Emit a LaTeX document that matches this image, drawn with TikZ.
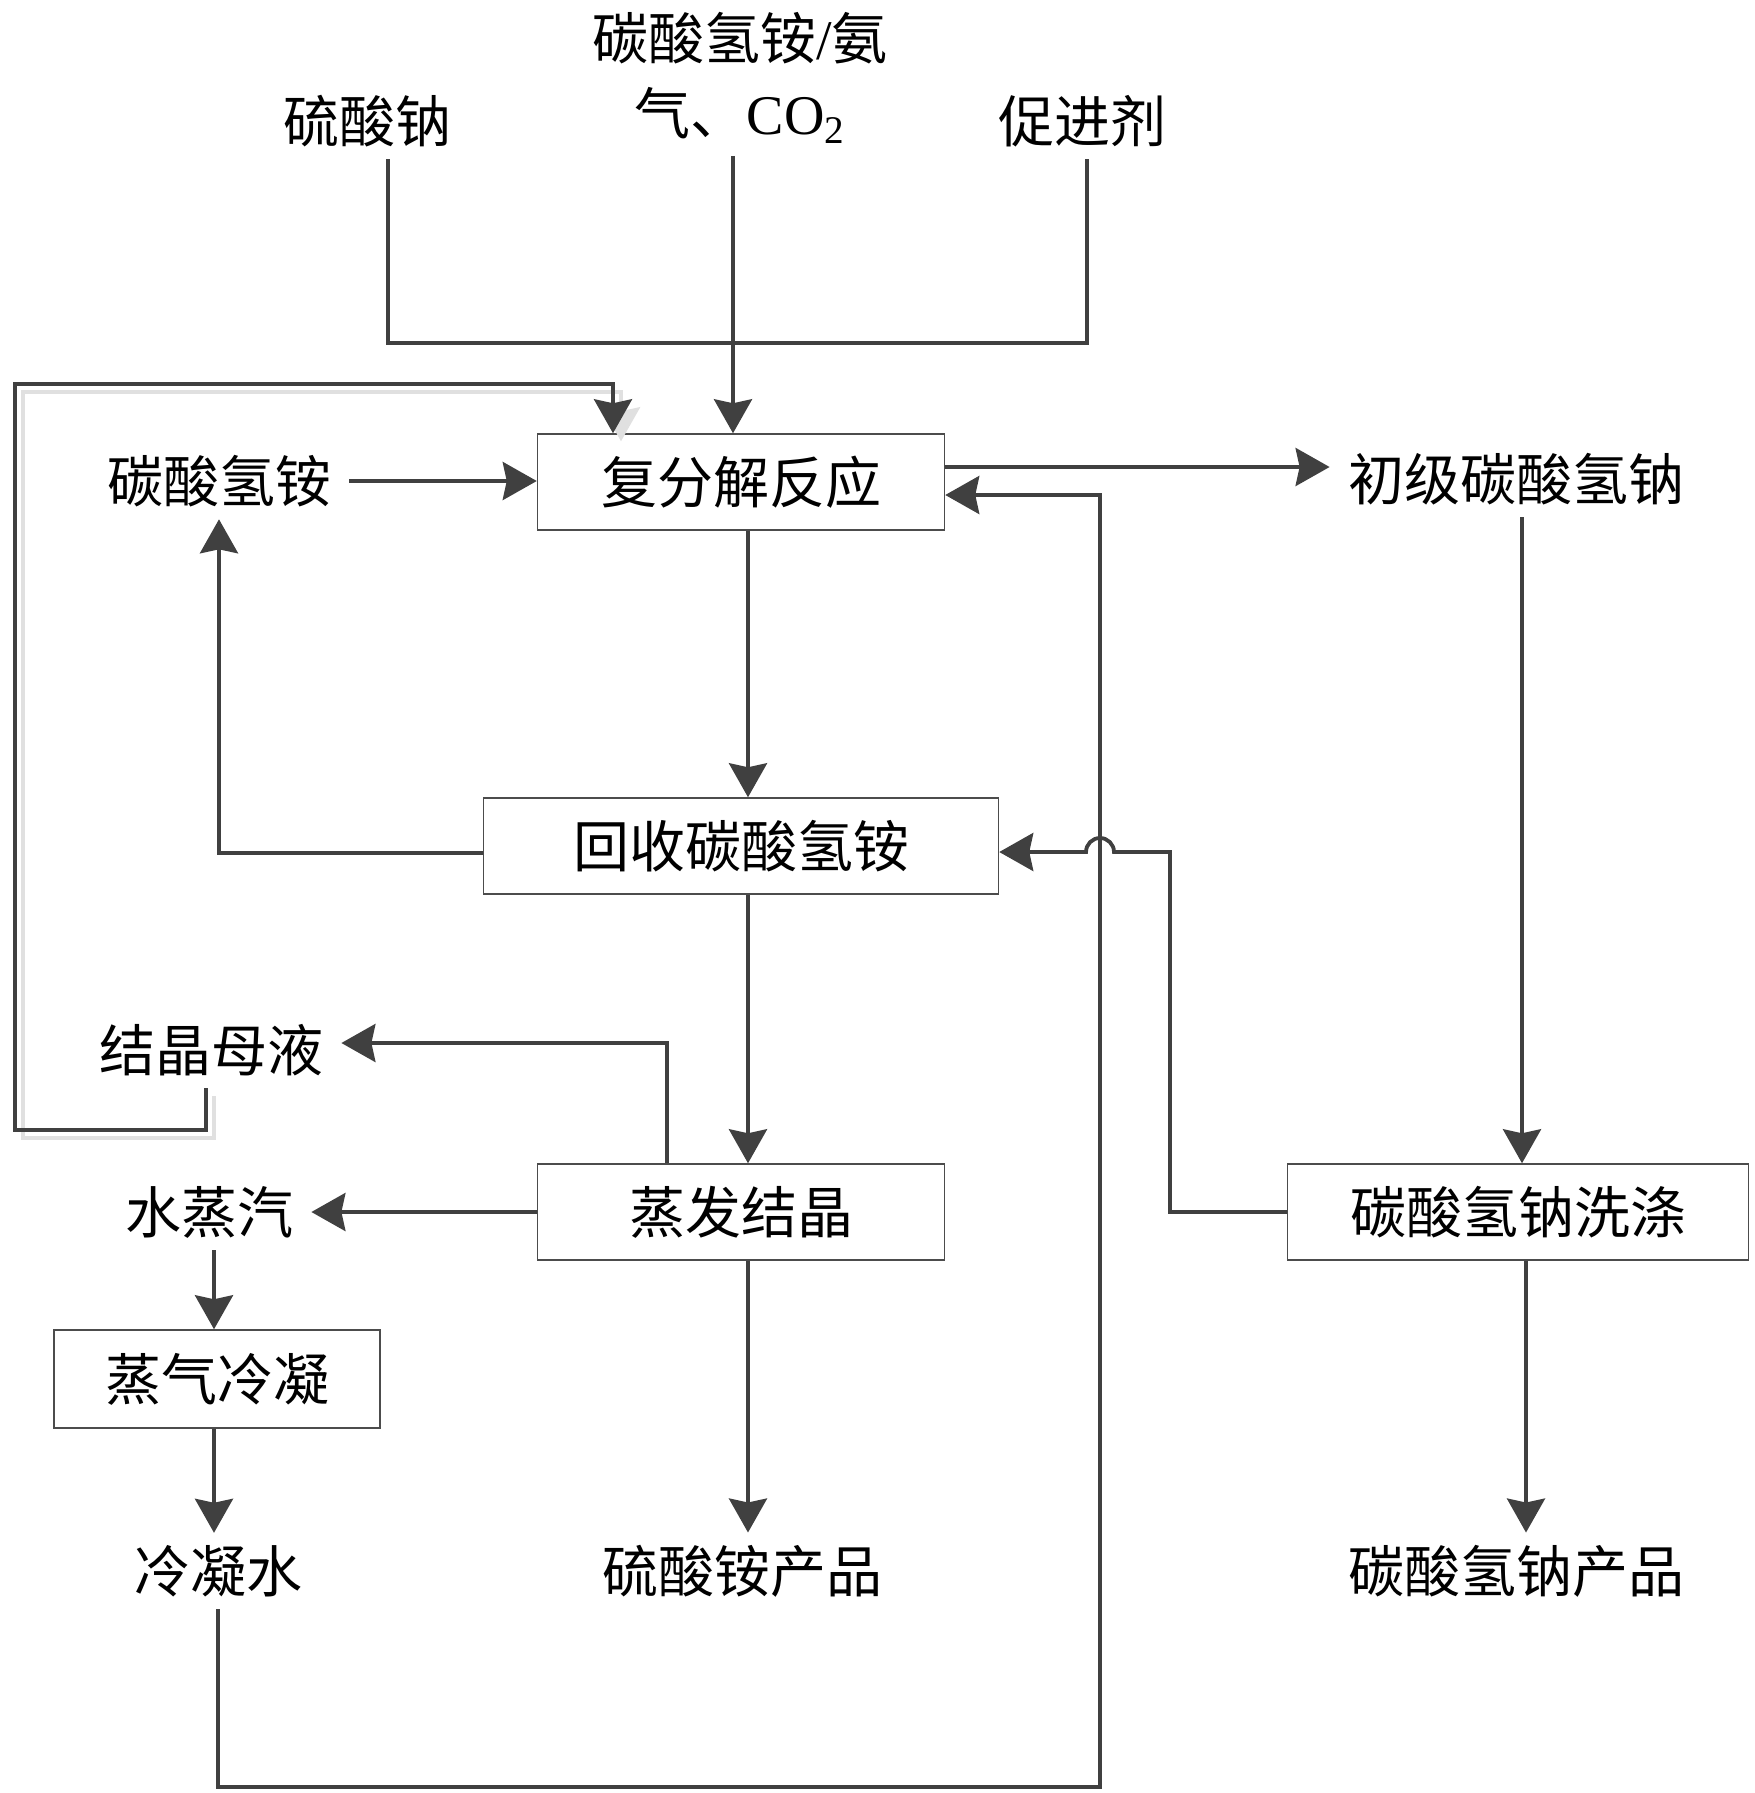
\documentclass[tikz,border=0pt]{standalone}
\usepackage{fontspec}
\setmainfont{Noto Sans CJK SC}
\newfontfamily\latin{Liberation Serif}
\usepackage{tikz}
\usetikzlibrary{arrows.meta, positioning}
\tikzstyle{process} = [rectangle, draw=black!70, line width=0.75pt, minimum height=48pt, text centered, inner sep=0pt]
\tikzstyle{material} = [inner xsep=9pt, inner ysep=6pt]
\tikzstyle{pipe} = [line width=1.9pt, draw=black!75]
\tikzstyle{arrow} = [pipe, -{Stealth[length=17pt, width=19pt, inset=2pt]}]
\tikzstyle{ghost} = [line width=1.9pt, draw=black!12, -{Stealth[length=17pt, width=19pt, inset=2pt]}, transform canvas={xshift=4pt, yshift=-4pt}]

\begin{document}
\begin{tikzpicture}[x=0.5pt, y=-0.5pt, font=\fontsize{28pt}{37.5pt}\selectfont]
\fill [white] (0,0) rectangle (1755,1793);
\node (1) [material] at (367,121) {硫酸钠};
\node (2) [material, align=center] at (740,78) {碳酸氢铵{\latin /}氨\\气、{\latin CO\textsubscript{2}}};
\node (3) [material] at (1082,121) {促进剂};
\node (4) [material] at (219,481) {碳酸氢铵};
\node (5) [process, minimum width=203.5pt] at (741,482) {复分解反应};
\node (6) [material] at (1516,479) {初级碳酸氢钠};
\node (7) [process, minimum width=257.5pt] at (741,846) {回收碳酸氢铵};
\node (8) [material] at (211,1050) {结晶母液};
\node (9) [process, minimum width=203.5pt] at (741,1212) {蒸发结晶};
\node (10) [process, minimum width=230.5pt] at (1518,1212) {碳酸氢钠洗涤};
\node (11) [material] at (209,1212) {水蒸汽};
\node (12) [process, minimum width=163pt, minimum height=49pt] at (217,1379) {蒸气冷凝};
\node (13) [material] at (218,1571) {冷凝水};
\node (14) [material] at (742,1571) {硫酸铵产品};
\node (15) [material] at (1516,1571) {碳酸氢钠产品};
\coordinate (join) at (733,343);
\coordinate (loopbottom) at (15,1130);
\coordinate (looptop) at (15,384);
\coordinate (drain) at (1100,1787);
\coordinate (hop) at (1100,852);

\draw [pipe] ([xshift=10.5pt]1.south) |- (join) -| ([xshift=2.5pt]3.south);
\draw [arrow] ([xshift=-3.5pt]2.south) -- ([xshift=-3.5pt]2.south |- 5.north);
\draw [ghost] ([xshift=-2.5pt]8.south) |- (loopbottom) -- (looptop) -| ([xshift=-64pt]5.north);
\draw [arrow] ([xshift=-2.5pt]8.south) |- (loopbottom) -- (looptop) -| ([xshift=-64pt]5.north);
\draw [arrow] (4.east) -- (4.east -| 5.west);
\draw [arrow] ([yshift=7.5pt]5.east) -- ([yshift=7.5pt]5.east -| 6.west);
\draw [arrow] (13.south) |- (drain) |- ([yshift=-6.5pt]5.east);
\draw [arrow] ([xshift=3.5pt]5.south) -- ([xshift=3.5pt]7.north);
\draw [arrow] ([yshift=-3.5pt]7.west) -| (4.south);
\draw [arrow] ([xshift=3.5pt]7.south) -- ([xshift=3.5pt]9.north);
\draw [arrow] (10.west) -| ([xshift=35pt]hop) -- ([xshift=7pt]hop) arc (0:-180:14) -- (hop -| 7.east);
\draw [arrow] ([xshift=3pt]6.south) -- ([xshift=3pt]6.south |- 10.north);
\draw [arrow] ([xshift=4pt]10.south) -- ([xshift=4pt]10.south |- 15.north);
\draw [arrow] ([xshift=-37pt]9.north) |- ([yshift=3.5pt]8.east);
\draw [arrow] (9.west) -- (11.east);
\draw [arrow] ([xshift=2.5pt]11.south) -- ([xshift=2.5pt]11.south |- 12.north);
\draw [arrow] ([xshift=-1.5pt]12.south) -- ([xshift=-1.5pt]12.south |- 13.north);
\draw [arrow] ([xshift=3.5pt]9.south) -- ([xshift=3.5pt]9.south |- 14.north);
\end{tikzpicture}
\end{document}
